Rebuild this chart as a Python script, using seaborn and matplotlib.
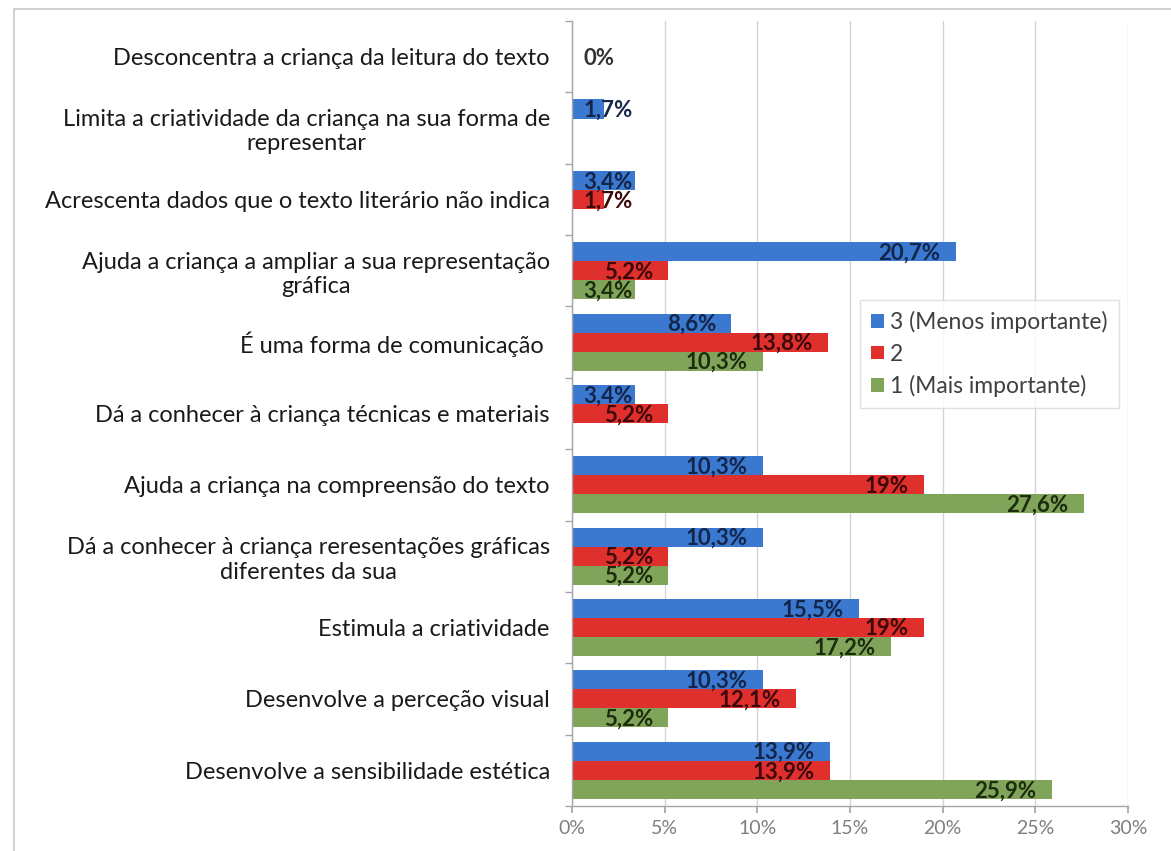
import numpy as np
import pandas as pd
import matplotlib
matplotlib.use("Agg")
import matplotlib.pyplot as plt
from matplotlib.lines import Line2D
import seaborn as sns

categories = [
    "Desconcentra a criança da leitura do texto",
    "Limita a criatividade da criança na sua forma de\nrepresentar",
    "Acrescenta dados que o texto literário não indica",
    "Ajuda a criança a ampliar a sua representação\ngráfica",
    "É uma forma de comunicação ",
    "Dá a conhecer à criança técnicas e materiais",
    "Ajuda a criança na compreensão do texto",
    "Dá a conhecer à criança reresentações gráficas\ndiferentes da sua",
    "Estimula a criatividade",
    "Desenvolve a perceção visual",
    "Desenvolve a sensibilidade estética",
]
series_names = ["3 (Menos importante)", "2", "1 (Mais importante)"]
s3_menos = [np.nan, 1.7, 3.4, 20.7, 8.6, 3.4, 10.3, 10.3, 15.5, 10.3, 13.9]
s2 = [0.0, np.nan, 1.7, 5.2, 13.8, 5.2, 19.0, 5.2, 19.0, 12.1, 13.9]
s1_mais = [np.nan, np.nan, np.nan, 3.4, 10.3, np.nan, 27.6, 5.2, 17.2, 5.2, 25.9]
x_ticks = [0, 5, 10, 15, 20, 25, 30]

colors = ["#3B78D0", "#E0302E", "#80A55A"]
label_colors = ["#13264a", "#3d0808", "#1c2c0c"]

rows = []
for name, vals in zip(series_names, [s3_menos, s2, s1_mais]):
    for c, v in zip(categories, vals):
        rows.append({"categoria": c, "valor": v, "serie": name})
df = pd.DataFrame(rows)

sns.set_theme(style="white")
plt.rcParams["font.family"] = ["Lato", "DejaVu Sans"]

fig = plt.figure(figsize=(11.71, 8.51), dpi=100)
ax = fig.add_axes([572 / 1171, 1 - 806 / 851, (1128 - 572) / 1171, (806 - 21) / 851])

sns.barplot(data=df, x="valor", y="categoria", hue="serie", order=categories,
            hue_order=series_names, palette=colors, orient="h", width=0.8,
            errorbar=None, ax=ax, saturation=1, linewidth=0)

ax.set_xlim(0, 30)
ax.set_ylim(len(categories) - 0.5, -0.5)
ax.set_xticks(x_ticks)
ax.set_xticklabels([f"{t}%" for t in x_ticks], color="#7f7f7f", fontsize=14)
ax.set_xlabel("")
ax.set_ylabel("")
ax.grid(axis="x", color="#d4d4d4", linewidth=1)
ax.set_axisbelow(True)
for side in ["top", "right"]:
    ax.spines[side].set_visible(False)
for side in ["left", "bottom"]:
    ax.spines[side].set_color("#a6a6a6")
    ax.spines[side].set_linewidth(1)

ax.tick_params(axis="x", which="major", length=5, color="#a6a6a6", direction="out",
               bottom=True, pad=5)
ax.tick_params(axis="y", which="major", length=0, pad=16, labelsize=17, labelcolor="#1a1a1a")
ax.set_yticks(np.arange(len(categories) + 1) - 0.5, minor=True)
ax.tick_params(axis="y", which="minor", length=5, color="#a6a6a6", direction="out", left=True)
for lbl in ax.get_yticklabels():
    lbl.set_multialignment("center")

def fmt(v):
    s = f"{v:.1f}"
    if s.endswith(".0"):
        s = s[:-2]
    return s.replace(".", ",") + "%"

for ci, cont in enumerate(ax.containers):
    for bar in cont:
        w = bar.get_width()
        if w is None or np.isnan(w):
            continue
        yc = bar.get_y() + bar.get_height() / 2
        col = label_colors[ci] if w > 0 else "#333333"
        if w >= 5:
            ax.annotate(fmt(w), xy=(w, yc), xytext=(-11, -1), textcoords="offset points",
                        ha="right", va="center", fontsize=16, fontweight="bold", color=col)
        else:
            ax.annotate(fmt(w), xy=(0, yc), xytext=(8, -1), textcoords="offset points",
                        ha="left", va="center", fontsize=16, fontweight="bold", color=col)

leg = ax.legend(loc="upper left", bbox_to_anchor=(0.518, 0.645), frameon=True,
                fancybox=False, fontsize=16.5, handlelength=0.55, handleheight=0.55,
                handletextpad=0.25, labelspacing=0.45, borderpad=0.5, borderaxespad=0,
                title=None)
leg.get_frame().set_edgecolor("#d9d9d9")
leg.get_frame().set_linewidth(1)
for t in leg.get_texts():
    t.set_color("#404040")

fig.add_artist(Line2D([14 / 1171, 14 / 1171], [0, 1 - 9 / 851], transform=fig.transFigure,
                      color="#c8c8c8", linewidth=1.2))
fig.add_artist(Line2D([14 / 1171, 1], [1 - 9 / 851, 1 - 9 / 851], transform=fig.transFigure,
                      color="#c8c8c8", linewidth=1.2))

fig.savefig("out.png", dpi=100)
